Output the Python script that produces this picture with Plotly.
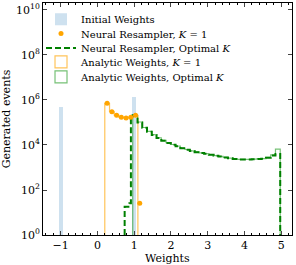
import numpy as np
import plotly.graph_objects as go

# ---------------- data ----------------
initial_x = [-1.0, 1.0]
initial_counts = [4.9e5, 1.35e6]

k1_edges = list(np.linspace(0.2, 1.1, 8))
analytic_k1_counts = [7.1e5, 3.0e5, 2.1e5, 1.7e5, 1.6e5, 1.7e5, 2.1e5]

neural_k1_x = [0.264, 0.393, 0.521, 0.65, 0.779, 0.907, 1.036, 1.15]
neural_k1_counts = [7.1e5, 3.0e5, 2.1e5, 1.7e5, 1.6e5, 1.7e5, 2.1e5, 26]

opt_edges = list(np.linspace(0.96, 4.97, 32))
analytic_opt_counts = [2.1e5, 1.05e5, 6.0e4, 4.0e4, 2.9e4, 2.1e4, 1.6e4, 1.26e4, 1.05e4, 8.9e3,
                       7.2e3, 6.3e3, 5.5e3, 4.9e3, 4.5e3, 4.1e3, 3.7e3, 3.4e3, 3.1e3, 2.8e3,
                       2.6e3, 2.4e3, 2.3e3, 2.3e3, 2.3e3, 2.35e3, 2.45e3, 2.5e3, 2.8e3, 3.6e3, 6.5e3]

neural_opt_low_edges = [0.74, 0.87, 0.91]
neural_opt_counts = [18, 26, 2.0e5, 2.08e5,
                     1.0e5, 5.8e4, 3.9e4, 2.8e4, 2.05e4, 1.55e4, 1.24e4, 1.03e4, 8.7e3, 7.1e3,
                     6.2e3, 5.4e3, 4.8e3, 4.45e3, 4.05e3, 3.65e3, 3.35e3, 3.05e3, 2.78e3, 2.57e3,
                     2.38e3, 2.28e3, 2.27e3, 2.28e3, 2.32e3, 2.38e3, 2.45e3, 2.7e3, 3.4e3, 4.0e3]

y_tickvals = [1, 1e2, 1e4, 1e6, 1e8, 1e10]
y_ticktext = ["10<sup>0</sup>", "10<sup>2</sup>", "10<sup>4</sup>", "10<sup>6</sup>",
              "10<sup>8</sup>", "10<sup>10</sup>"]
x_tickvals = [-1, 0, 1, 2, 3, 4, 5]
x_ticktext = ["\u22121", "0", "1", "2", "3", "4", "5"]


def step_xy(edges, counts):
    xs = [edges[0]] + list(edges[:-1]) + [edges[-1]]
    ys = [1] + list(counts) + [1]
    return xs, ys


BLUE = "rgba(31,119,180,0.22)"
ORANGE = "#FFA500"
ORANGE_L = "rgba(255,165,0,0.65)"
GREEN = "#008000"
GREEN_L = "rgba(44,160,44,0.65)"
FONT = "DejaVu Serif"

fig = go.Figure()

fig.add_trace(go.Bar(x=initial_x, y=initial_counts, width=0.11, marker=dict(color=BLUE, line=dict(width=0)),
                     name="Initial Weights", legend="legend"))

ax, ay = step_xy(k1_edges, analytic_k1_counts)
fig.add_trace(go.Scatter(x=ax, y=ay, mode="lines", line=dict(color=ORANGE_L, width=1.2, shape="hv"),
                         showlegend=False))
bx, by = step_xy(opt_edges, analytic_opt_counts)
fig.add_trace(go.Scatter(x=bx, y=by, mode="lines", line=dict(color=GREEN_L, width=1.2, shape="hv"),
                         showlegend=False))

nx, ny = step_xy(neural_opt_low_edges + opt_edges, neural_opt_counts)
fig.add_trace(go.Scatter(x=nx, y=ny, mode="lines", line=dict(color=GREEN, width=2, shape="hv", dash="6px,3px"),
                         name="Neural Resampler, Optimal <i>K</i>", legend="legend3"))

fig.add_trace(go.Scatter(x=neural_k1_x, y=neural_k1_counts, mode="markers",
                         marker=dict(color=ORANGE, size=5), name="Neural Resampler, <i>K</i> = 1",
                         legend="legend2"))

# legend proxies for the step histograms
fig.add_trace(go.Bar(x=[None], y=[None], marker=dict(color="rgba(0,0,0,0)", line=dict(color=ORANGE_L, width=1.2)),
                     name="Analytic Weights, <i>K</i> = 1", legend="legend4"))
fig.add_trace(go.Bar(x=[None], y=[None], marker=dict(color="rgba(0,0,0,0)", line=dict(color=GREEN_L, width=1.2)),
                     name="Analytic Weights, Optimal <i>K</i>", legend="legend5"))

row_y = [0.930, 0.868, 0.806, 0.746, 0.682]
leg_common = dict(x=-0.008, xanchor="left", yanchor="middle", bgcolor="rgba(0,0,0,0)",
                  font=dict(family=FONT, size=10), itemwidth=30, borderwidth=0)

fig.update_layout(
    width=296, height=265,
    margin=dict(l=43, r=4, t=3, b=30),
    paper_bgcolor="white", plot_bgcolor="white",
    barmode="overlay", bargap=0,
    font=dict(family=FONT, size=10, color="black"),
    legend=dict(y=row_y[0], **leg_common),
    legend2=dict(y=row_y[1], **leg_common),
    legend3=dict(y=row_y[2], **leg_common),
    legend4=dict(y=row_y[3], **leg_common),
    legend5=dict(y=row_y[4], **leg_common),
    xaxis=dict(range=[-1.48, 5.29], tickvals=x_tickvals, ticktext=x_ticktext, ticks="inside", ticklen=4,
               showline=True, linecolor="black", linewidth=1, mirror="allticks", showgrid=False, zeroline=False,
               tickfont=dict(family=FONT, size=11), automargin=False,
               minor=dict(dtick=0.2, ticks="inside", ticklen=2, tickcolor="black", showgrid=False)),
    yaxis=dict(type="log", range=[0, 10.31], tickvals=y_tickvals, ticktext=y_ticktext, ticks="inside", ticklen=4,
               showline=True, linecolor="black", linewidth=1, mirror="allticks", showgrid=False, zeroline=False,
               tickfont=dict(family=FONT, size=11), automargin=False,
               title=dict(text="Generated events", font=dict(family=FONT, size=11))),
    annotations=[dict(text="Weights", xref="paper", yref="paper", x=0.5, y=-0.103,
                      xanchor="center", yanchor="middle", showarrow=False,
                      font=dict(family=FONT, size=11))],
)

fig.write_html("out.html", config={"displayModeBar": False},
               post_script="document.body.style.margin='0px';")
